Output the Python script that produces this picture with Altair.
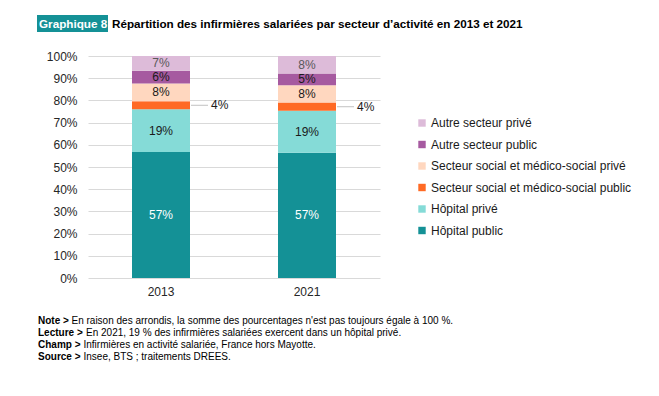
import altair as alt
import pandas as pd

years = ["2013", "2021"]
series = ["Hôpital public", "Hôpital privé", "Secteur social et médico-social public",
          "Secteur social et médico-social privé", "Autre secteur public", "Autre secteur privé"]
v2013 = [56.8, 19.2, 3.6, 8.0, 5.8, 6.6]
v2021 = [56.4, 18.9, 3.7, 7.8, 5.3, 7.9]
labels2013 = ["57%", "19%", "4%", "8%", "6%", "7%"]
labels2021 = ["57%", "19%", "4%", "8%", "5%", "8%"]
colors = ["#149196", "#85DBD7", "#FF6A24", "#FFD7BF", "#A65AA0", "#DDBBD9"]
yticks = list(range(0, 101, 10))

rows = []
for yr, vals, labs in [("2013", v2013, labels2013), ("2021", v2021, labels2021)]:
    cum = 0
    for i, (s, v, l) in enumerate(zip(series, vals, labs)):
        rows.append({"year": yr, "series": s, "value": v, "label": l, "order": i,
                     "mid": cum + v / 2})
        cum += v
df = pd.DataFrame(rows)

font = "Liberation Sans"
W, H = 292, 222

yscale = alt.Scale(domain=[0, 100], nice=False)
yaxis = alt.Axis(values=yticks, labelExpr="datum.value + '%'", ticks=False,
                 domain=False, gridColor="#d9d9d9", labelPadding=11, labelOverlap=False,
                 labelFontSize=12, labelColor="#262626", labelFont=font, tickCount=11)

xenc = alt.X("year:N", title=None, sort=years,
             scale=alt.Scale(paddingInner=0, paddingOuter=0),
             axis=alt.Axis(labelAngle=0, ticks=False, domain=False, labelPadding=8,
                           labelFontSize=12, labelColor="#262626", labelFont=font))

base = alt.Chart(df)

bars = base.mark_bar(size=58).encode(
    x=xenc,
    y=alt.Y("value:Q", stack="zero", title=None, scale=yscale, axis=yaxis),
    color=alt.Color("series:N",
                    scale=alt.Scale(domain=series[::-1], range=colors[::-1]),
                    legend=alt.Legend(title=None, orient="none", legendX=328, legendY=61,
                                      symbolType="square", symbolSize=55,
                                      symbolStrokeWidth=0, labelFontSize=12,
                                      labelFont=font, labelColor="#1a1a1a",
                                      rowPadding=9.5, labelOffset=3, labelLimit=400)),
    order=alt.Order("order:Q"),
)

def yenc():
    return alt.Y("mid:Q", title=None, scale=yscale, axis=yaxis)

def xsimple():
    return alt.X("year:N", sort=years, title=None)

def inside(filter_expr, color):
    return base.transform_filter(filter_expr).mark_text(
        font=font, fontSize=12, color=color).encode(
        x=xsimple(), y=yenc(), text="label:N")

t_white = inside("datum.series == 'Hôpital public'", "#ffffff")
t_grey = inside("datum.series == 'Autre secteur privé'", "#595959")
t_dark = inside("datum.series != 'Hôpital public' && datum.series != 'Autre secteur privé' && datum.series != 'Secteur social et médico-social public'", "#1a1a1a")

outside_f = "datum.series == 'Secteur social et médico-social public'"
leader = base.transform_filter(outside_f).mark_tick(
    orient="horizontal", size=17, thickness=1, xOffset=38.5, color="#a6a6a6").encode(
    x=xsimple(), y=yenc())
t_out = base.transform_filter(outside_f).mark_text(
    font=font, fontSize=12, color="#1a1a1a", align="left", dx=50).encode(
    x=xsimple(), y=yenc(), text="label:N")

# Title and footer
title_box = alt.Chart(pd.DataFrame({"a": [0]})).mark_rect(color="#149196").encode(
    x=alt.value(-51), x2=alt.value(20), y=alt.value(-41), y2=alt.value(-24))
title_g = alt.Chart(pd.DataFrame({"t": ["Graphique 8"]})).mark_text(
    font=font, fontSize=11.7, fontWeight="bold", color="white", align="left",
    baseline="middle").encode(x=alt.value(-49), y=alt.value(-32), text="t:N")
title_t = alt.Chart(pd.DataFrame({"t": ["Répartition des infirmières salariées par secteur d’activité en 2013 et 2021"]})).mark_text(
    font=font, fontSize=11.7, fontWeight="bold", color="#000000", align="left",
    baseline="middle").encode(x=alt.value(24), y=alt.value(-32), text="t:N")

notes_bold = ["Note >", "Lecture >", "Champ >", "Source >"]
notes_text = ["En raison des arrondis, la somme des pourcentages n'est pas toujours égale à 100 %.",
              "En 2021, 19 % des infirmières salariées exercent dans un hôpital privé.",
              "Infirmières en activité salariée, France hors Mayotte.",
              "Insee, BTS ; traitements DREES."]
note_x = [-16.5, -2, -4.5, -4.5]
foot = []
for i, (b, t) in enumerate(zip(notes_bold, notes_text)):
    yy = 265 + 12 * i
    foot.append(alt.Chart(pd.DataFrame({"t": [b]})).mark_text(
        font=font, fontSize=10, fontWeight="bold", color="#000", align="left",
        baseline="middle").encode(x=alt.value(-50), y=alt.value(yy), text="t:N"))
    foot.append(alt.Chart(pd.DataFrame({"t": [t]})).mark_text(
        font=font, fontSize=10, color="#000", align="left",
        baseline="middle").encode(x=alt.value(note_x[i]), y=alt.value(yy), text="t:N"))

chart = alt.layer(bars, t_white, t_grey, t_dark, leader, t_out,
                  title_box, title_g, title_t, *foot).properties(
    width=W, height=H,
    autosize=alt.AutoSizeParams(type="none"),
    padding={"left": 80, "top": 48, "right": 271, "bottom": 110},
    background="white",
).configure_view(stroke=None)

chart.save("out.html", embed_options={"renderer": "svg", "actions": False})
